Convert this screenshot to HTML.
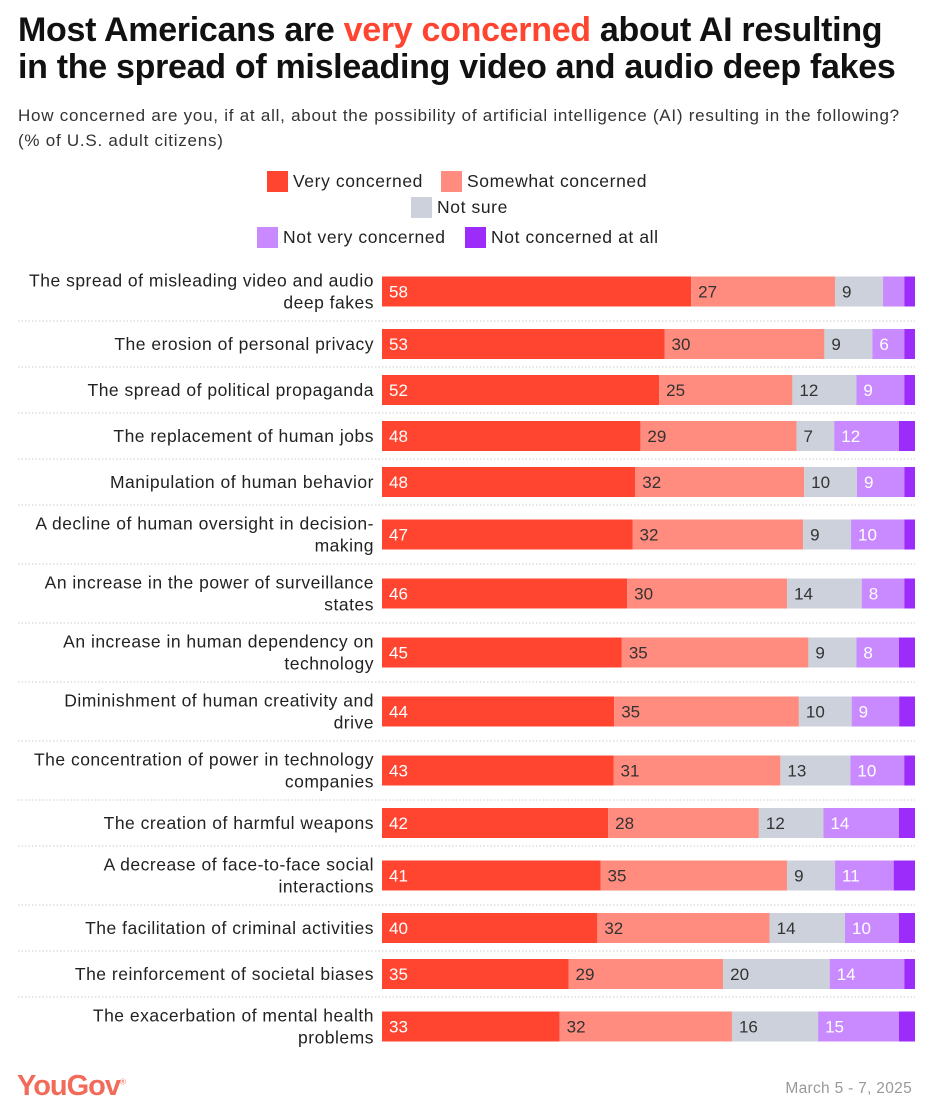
<!DOCTYPE html>
<html><head><meta charset="utf-8"><style>
body{margin:0;background:#fff;font-family:"Liberation Sans",sans-serif;}
#wrap{position:relative;width:928px;height:1116px;overflow:hidden;}
h1{position:absolute;left:18px;top:12px;margin:0;font-size:34px;line-height:37px;font-weight:bold;color:#111;letter-spacing:-0.3px;white-space:nowrap;}
h1 span{color:#ff4530;}
.sub{position:absolute;left:18px;top:103px;font-size:17px;line-height:25px;color:#333;letter-spacing:0.75px;white-space:nowrap;}
.lg{position:absolute;font-size:17.5px;color:#222;display:flex;align-items:center;letter-spacing:0.6px;white-space:nowrap;}
.lg i{display:inline-block;width:21px;height:21px;margin-right:5px;}
.yg{position:absolute;left:17px;top:1070px;font-size:29px;font-weight:bold;color:#f26a5a;letter-spacing:-1px;}
.date{position:absolute;right:16px;top:1080px;font-size:15.5px;color:#999;letter-spacing:0.3px;}
</style></head><body>
<div id="wrap">
<h1>Most Americans are <span>very concerned</span> about AI resulting<br>in the spread of misleading video and audio deep fakes</h1>
<div class="sub">How concerned are you, if at all, about the possibility of artificial intelligence (AI) resulting in the following?<br>(% of U.S. adult citizens)</div>
<div class="lg" style="left:267px;top:171px"><i style="background:#ff4530"></i>Very concerned</div>
<div class="lg" style="left:441px;top:171px"><i style="background:#ff8c7e"></i>Somewhat concerned</div>
<div class="lg" style="left:411px;top:197px"><i style="background:#cdd1db"></i>Not sure</div>
<div class="lg" style="left:257px;top:227px"><i style="background:#c98aff"></i>Not very concerned</div>
<div class="lg" style="left:465px;top:227px"><i style="background:#9b2cfa"></i>Not concerned at all</div>
<svg id="svg" width="928" height="1116" style="position:absolute;left:0;top:0"></svg>
<div class="yg">YouGov<sup style="font-size:8px;font-weight:normal">®</sup></div>
<div class="date">March 5 - 7, 2025</div>
</div>
<script>
const categories=["The spread of misleading video and audio\ndeep fakes","The erosion of personal privacy","The spread of political propaganda","The replacement of human jobs","Manipulation of human behavior","A decline of human oversight in decision-\nmaking","An increase in the power of surveillance\nstates","An increase in human dependency on\ntechnology","Diminishment of human creativity and\ndrive","The concentration of power in technology\ncompanies","The creation of harmful weapons","A decrease of face-to-face social\ninteractions","The facilitation of criminal activities","The reinforcement of societal biases","The exacerbation of mental health\nproblems"];
const veryConcerned=[58,53,52,48,48,47,46,45,44,43,42,41,40,35,33];
const somewhatConcerned=[27,30,25,29,32,32,30,35,35,31,28,35,32,29,32];
const notSure=[9,9,12,7,10,9,14,9,10,13,12,9,14,20,16];
const notVeryConcerned=[4,6,9,12,9,10,8,8,9,10,14,11,10,14,15];
const notConcernedAtAll=[2,2,2,3,2,2,2,3,3,2,3,4,3,2,3];
const series=[veryConcerned,somewhatConcerned,notSure,notVeryConcerned,notConcernedAtAll];
const seriesNames=["very","somewhat","not-sure","not-very","not-at-all"];
const colors=["#ff4530","#ff8c7e","#cdd1db","#c98aff","#9b2cfa"];
const textColors=["#fff","#333","#333","#fff","#fff"];
const svg=document.getElementById('svg');const NS="http://www.w3.org/2000/svg";
const x0=382,x1=915;
function mk(t,a){const e=document.createElementNS(NS,t);for(const k in a)e.setAttribute(k,a[k]);return e;}
let y=262;
categories.forEach((c,i)=>{
  const lines=c.split("\n");const h=lines.length>1?59:46;const cy=y+h/2;
  const lab=mk('text',{x:374,'text-anchor':'end','font-size':17.5,fill:'#222','letter-spacing':0.5});
  
  
  lines.forEach((l,j)=>{const ts=mk('tspan',{x:374,y:cy+6+(j-(lines.length-1)/2)*22});ts.textContent=l;lab.appendChild(ts);});
  svg.appendChild(lab);
  let tot=0;series.forEach(s=>tot+=s[i]);
  let cx=x0;
  series.forEach((s,k)=>{
    const w=s[i]/tot*(x1-x0);
    const r=mk('rect',{x:cx,y:cy-15,width:w,height:30,fill:colors[k]});
    
    
    svg.appendChild(r);
    if(s[i]>=5){const t=mk('text',{x:cx+7,y:cy+6,'font-size':17,fill:textColors[k]});t.textContent=s[i];
      
      
      svg.appendChild(t);}
    cx+=w;
  });
  y+=h;
  if(i<categories.length-1){const ln=mk('line',{x1:18,x2:915,y1:y,y2:y,stroke:'#ccc','stroke-dasharray':'1.5 2'});
    
    
    svg.appendChild(ln);}
});
</script>
</body></html>
